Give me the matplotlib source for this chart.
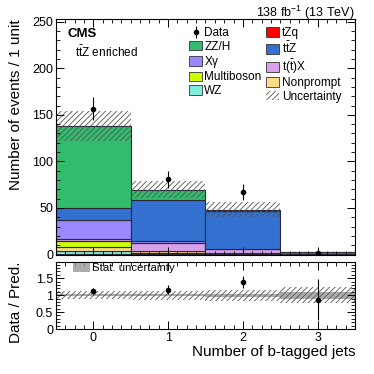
import numpy as np
import matplotlib
matplotlib.use("Agg")
import matplotlib.pyplot as plt
from matplotlib.patches import Patch
from matplotlib.ticker import MultipleLocator, FormatStrFormatter

plt.rcParams['font.family'] = ['Liberation Sans', 'DejaVu Sans']
plt.rcParams['mathtext.fontset'] = 'custom'
plt.rcParams['mathtext.rm'] = 'Liberation Sans'
plt.rcParams['mathtext.it'] = 'Liberation Sans:italic'
plt.rcParams['hatch.linewidth'] = 0.6

# bins: number of b-tagged jets
nbjets = [0, 1, 2, 3]

# stacked backgrounds, bottom -> top
tzq = [0.5, 1.0, 0.6, 0.1]
wz = [3.0, 0.5, 0.1, 0.0]
nonprompt = [4.5, 2.0, 0.5, 0.1]
multiboson = [6.5, 0.3, 0.1, 0.0]
ttx = [2.5, 8.7, 4.5, 0.3]
xgamma = [20.5, 1.7, 0.5, 0.0]
ttz = [12.0, 44.6, 40.5, 1.8]
zzh = [88.5, 11.0, 1.5, 0.0]

data = [156.5, 80.8, 67.2, 2.0]
total_unc = [16.5, 9.3, 7.8, 0.56]     # absolute total uncertainty
stat_rel = [0.03, 0.03, 0.04, 0.10]    # relative stat. uncertainty

stack = [
    (tzq, '#ff0000', 'tZq'),
    (wz, '#80eedd', 'WZ'),
    (nonprompt, '#ffdd88', 'Nonprompt'),
    (multiboson, '#ccff00', 'Multiboson'),
    (ttx, '#d8a0e8', r't($\bar{\mathrm{t}}$)X'),
    (xgamma, '#9988ff', r'X$\mathrm{\gamma}$'),
    (ttz, '#3370d0', r't$\bar{\mathrm{t}}$Z'),
    (zzh, '#33bb6e', 'ZZ/H'),
]

x = np.array(nbjets, dtype=float)
data = np.array(data)

fig = plt.figure(figsize=(3.74, 3.74), dpi=100)
ax = fig.add_axes([0.1497, 0.3195, 0.7995, 0.6297])
rax = fig.add_axes([0.1497, 0.1203, 0.7995, 0.1792], sharex=ax)

bottom = np.zeros(len(x))
handles = {}
for vals, col, lab in stack:
    vals = np.array(vals)
    ax.bar(x, vals, width=1.0, bottom=bottom, color=col, edgecolor='#2a2a3a', linewidth=0.8)
    handles[lab] = Patch(facecolor=col, edgecolor='#333333', linewidth=0.6, label=lab)
    bottom = bottom + vals
total = bottom

unc = np.array(total_unc)
ax.bar(x, 2 * unc, width=1.0, bottom=total - unc, fill=False, hatch='//////',
       edgecolor='#555555', linewidth=0)
data_h = ax.errorbar(x, data, yerr=np.sqrt(data), fmt='o', ms=3, color='k', elinewidth=0.8,
                     capsize=0, label='Data')

ax.set_xlim(-0.5, 3.5)
ax.set_ylim(0, 253)
ax.set_ylabel('Number of events / 1 unit', fontsize=11, loc='top')
ax.yaxis.set_label_coords(-0.11, 1.0)
ax.yaxis.set_major_locator(MultipleLocator(50))
ax.yaxis.set_minor_locator(MultipleLocator(10))
ax.xaxis.set_major_locator(MultipleLocator(1))
ax.xaxis.set_minor_locator(MultipleLocator(0.125))
ax.tick_params(axis='x', labelbottom=False)

for a in (ax, rax):
    a.tick_params(which='both', direction='in', top=True, right=True, labelsize=9, pad=2)
    a.tick_params(which='major', length=6, width=0.7)
    a.tick_params(which='minor', length=3, width=0.6)
    for s in a.spines.values():
        s.set_linewidth(0.8)

ax.text(0.04, 0.96, 'CMS', transform=ax.transAxes, fontsize=9.5, fontweight='bold', va='top')
ax.text(0.065, 0.89, r't$\bar{\mathrm{t}}$Z enriched', transform=ax.transAxes, fontsize=8.5, va='top')
ax.text(1.0, 1.008, r'138 fb$^{-1}$ (13 TeV)', transform=ax.transAxes, fontsize=9, ha='right',
        va='baseline')

unc_h = Patch(facecolor='white', edgecolor='#555555', hatch='//////', linewidth=0, label='Uncertainty')
order = [data_h, handles['ZZ/H'], handles[r'X$\mathrm{\gamma}$'], handles['Multiboson'], handles['WZ'],
         handles['tZq'], handles[r't$\bar{\mathrm{t}}$Z'], handles[r't($\bar{\mathrm{t}}$)X'],
         handles['Nonprompt'], unc_h]
ax.legend(handles=order, ncol=2, loc='upper left', bbox_to_anchor=(0.445, 0.965), fontsize=8.5,
          frameon=False, handlelength=1.1, handleheight=0.9, handletextpad=0.2,
          columnspacing=0.4, labelspacing=0.12, borderaxespad=0, borderpad=0)

# ratio panel
ratio = data / total
rerr = np.sqrt(data) / total
rel_tot = unc / total
rax.bar(x, 2 * np.array(stat_rel), width=1.0, bottom=1 - np.array(stat_rel), color='#999999',
        alpha=0.8, linewidth=0, label='Stat. uncertainty')
rax.bar(x, 2 * rel_tot, width=1.0, bottom=1 - rel_tot, fill=False, hatch='//////',
        edgecolor='#555555', linewidth=0)
rax.errorbar(x, ratio, yerr=rerr, fmt='o', ms=3, color='k', elinewidth=0.8, capsize=0)
rax.set_ylim(0, 1.98)
rax.yaxis.set_major_locator(MultipleLocator(0.5))
rax.yaxis.set_minor_locator(MultipleLocator(0.1))
rax.yaxis.set_major_formatter(FormatStrFormatter('%g'))
rax.set_ylabel('Data / Pred.', fontsize=11, loc='top')
rax.yaxis.set_label_coords(-0.11, 1.0)
rax.set_xlabel('Number of b-tagged jets', fontsize=11, loc='right', labelpad=1)
rax.legend(loc='upper left', bbox_to_anchor=(0.057, 0.985), fontsize=8.2, frameon=False,
           handlelength=1.45, handleheight=0.8, handletextpad=0.2, borderaxespad=0, borderpad=0)

fig.savefig('out.png', dpi=100)
